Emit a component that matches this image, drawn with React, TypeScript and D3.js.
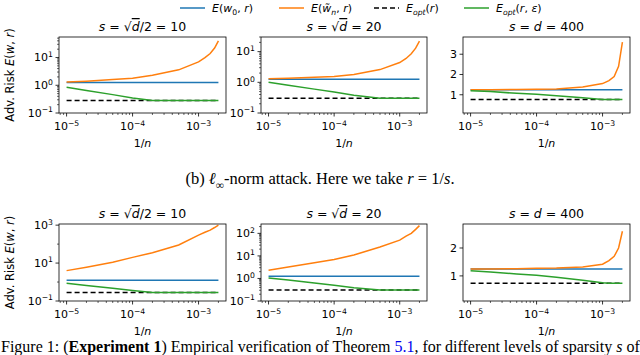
import React from 'react';
import * as d3 from 'd3';

// 1/n values (x), shared by every panel
const nInv = [1e-5, 2e-5, 5e-5, 1e-4, 2e-4, 5e-4, 1e-3, 1.25e-3, 1.5e-3, 1.75e-3, 2e-3];

// rows: [l2 attack (top), l_inf attack (bottom)] ; cols: s = sqrt(d)/2, sqrt(d), d
const baseRisk = [[1.25, 1.25, 1.25], [1.25, 1.25, 1.25]];
const optRisk = [[0.28, 0.3, 0.76], [0.28, 0.31, 0.74]];

const empRiskTop = [
  [1.3, 1.4, 1.6, 1.8, 2.3, 3.6, 7, 10, 14, 22, 40],
  [1.3, 1.35, 1.45, 1.55, 1.8, 2.6, 4.4, 6, 8.5, 13, 22],
  [1.25, 1.25, 1.26, 1.27, 1.28, 1.38, 1.55, 1.7, 1.9, 2.4, 3.6],
];
const empRiskBottom = [
  [4, 6, 11, 20, 35, 90, 300, 420, 550, 750, 1000],
  [2.3, 3.2, 5, 7, 11, 25, 50, 75, 100, 150, 220],
  [1.25, 1.25, 1.26, 1.27, 1.28, 1.32, 1.42, 1.55, 1.7, 2.0, 2.6],
];
const advOptTop = [
  [0.85, 0.65, 0.46, 0.35, 0.28, 0.28, 0.28, 0.28, 0.28, 0.28, 0.28],
  [1.0, 0.8, 0.6, 0.48, 0.38, 0.3, 0.3, 0.3, 0.3, 0.3, 0.3],
  [1.2, 1.16, 1.07, 1.02, 0.95, 0.85, 0.77, 0.76, 0.76, 0.76, 0.76],
];
const advOptBottom = [
  [0.87, 0.66, 0.47, 0.36, 0.28, 0.28, 0.28, 0.28, 0.28, 0.28, 0.28],
  [1.06, 0.85, 0.63, 0.5, 0.39, 0.31, 0.31, 0.31, 0.31, 0.31, 0.31],
  [1.18, 1.14, 1.07, 1.02, 0.95, 0.84, 0.75, 0.74, 0.74, 0.74, 0.74],
];

const yScaleKind = ['log', 'log', 'linear'];
const yMax = [[55, 30, 3.85], [1150, 260, 2.86]];
const yMajorTicks = [
  [[0.1, 1, 10], [0.1, 1, 10], [1, 2, 3]],
  [[0.1, 10, 1000], [0.1, 1, 10, 100], [1, 2]],
];
const xMajorTicks = [1e-5, 1e-4, 1e-3];

const colors = { base: '#1f77b4', emp: '#ff7f0e', opt: '#000000', adv: '#2ca02c' };

type Seg = { t: string; i?: boolean; sub?: boolean; sup?: boolean; o?: boolean; b?: boolean; c?: string };

const titles: Seg[][] = [
  [{ t: 's', i: true }, { t: ' = √' }, { t: 'd', i: true, o: true }, { t: '/2 = 10' }],
  [{ t: 's', i: true }, { t: ' = √' }, { t: 'd', i: true, o: true }, { t: ' = 20' }],
  [{ t: 's', i: true }, { t: ' = ' }, { t: 'd', i: true }, { t: ' = 400' }],
];

const legendItems: { key: keyof typeof colors; dash?: string; label: Seg[] }[] = [
  { key: 'base', label: [{ t: 'E', i: true }, { t: '(' }, { t: 'w', i: true }, { t: '0', sub: true }, { t: ', ' }, { t: 'r', i: true }, { t: ')' }] },
  { key: 'emp', label: [{ t: 'E', i: true }, { t: '(' }, { t: 'w\u0303', i: true }, { t: 'n', sub: true, i: true }, { t: ', ' }, { t: 'r', i: true }, { t: ')' }] },
  { key: 'opt', dash: '5,3', label: [{ t: 'E', i: true }, { t: 'opt', sub: true, i: true }, { t: '(' }, { t: 'r', i: true }, { t: ')' }] },
  { key: 'adv', label: [{ t: 'E', i: true }, { t: 'opt', sub: true, i: true }, { t: '(' }, { t: 'r', i: true }, { t: ', ' }, { t: 'ε', i: true }, { t: ')' }] },
];

const colX: [number, number][] = [[59, 226], [261, 427], [463, 630]];
const rowY: [number, number][] = [[37, 113], [224, 301]];

const FONT = 'DejaVu Sans, sans-serif';
const SERIF = 'Liberation Serif, Times New Roman, serif';

function MathText({ segs, fs }: { segs: Seg[]; fs: number }) {
  let off = 0;
  return (
    <>
      {segs.map((s, k) => {
        const target = s.sub ? fs * 0.3 : s.sup ? -fs * 0.4 : 0;
        const dy = target - off;
        off = target;
        return (
          <tspan
            key={k}
            dy={dy || undefined}
            fontSize={s.sub || s.sup ? fs * 0.7 : undefined}
            fontStyle={s.i ? 'italic' : undefined}
            fontWeight={s.b ? 'bold' : undefined}
            fill={s.c}
            style={s.o ? { textDecoration: 'overline' } : undefined}
          >
            {s.t}
          </tspan>
        );
      })}
    </>
  );
}

function Panel({ row, col }: { row: number; col: number }) {
  const [x0, x1] = colX[col];
  const [y0, y1] = rowY[row];
  const fx = d3.scaleLog().domain([10 ** -5.115, 10 ** -2.584]).range([x0, x1]);
  const isLog = yScaleKind[col] === 'log';
  const fy: any = isLog
    ? d3.scaleLog().domain([0.1, yMax[row][col]]).range([y1, y0])
    : d3.scaleLinear().domain([0.1, yMax[row][col]]).range([y1, y0]);

  const emp = (row === 0 ? empRiskTop : empRiskBottom)[col];
  const adv = (row === 0 ? advOptTop : advOptBottom)[col];
  const line = d3.line<number>().x((_, i) => fx(nInv[i])).y((d) => fy(d));
  const xa = nInv[0];
  const xb = nInv[nInv.length - 1];

  const xMinor: number[] = [];
  for (let e = -6; e <= -3; e++) for (let m = 2; m <= 9; m++) {
    const v = m * 10 ** e;
    if (fx(v) >= x0 && fx(v) <= x1) xMinor.push(v);
  }
  const yMajor = yMajorTicks[row][col];
  const yMinor: number[] = [];
  if (isLog) {
    const step = Math.log10(yMajor[1]) - Math.log10(yMajor[0]);
    for (let e = -1; e <= 3; e++) {
      if (step > 1) {
        const v = 10 ** e;
        if (!yMajor.some((t) => Math.abs(t - v) < 1e-9) && fy(v) >= y0 - 0.1) yMinor.push(v);
      } else {
        for (let m = 2; m <= 9; m++) {
          const v = m * 10 ** e;
          if (fy(v) >= y0 && fy(v) <= y1) yMinor.push(v);
        }
      }
    }
  }

  const cx = (x0 + x1) / 2;
  return (
    <g>
      <defs>
        <clipPath id={`clip${row}${col}`}>
          <rect x={x0} y={y0} width={x1 - x0} height={y1 - y0} />
        </clipPath>
      </defs>
      <g clipPath={`url(#clip${row}${col})`} fill="none" strokeWidth={1.5}>
        <line x1={fx(xa)} x2={fx(xb)} y1={fy(baseRisk[row][col])} y2={fy(baseRisk[row][col])} stroke={colors.base} />
        <path d={line(emp) || ''} stroke={colors.emp} />
        <line x1={fx(xa)} x2={fx(xb)} y1={fy(optRisk[row][col])} y2={fy(optRisk[row][col])} stroke={colors.opt} strokeDasharray="5,3" />
        <path d={line(adv) || ''} stroke={colors.adv} />
      </g>
      <rect x={x0} y={y0} width={x1 - x0} height={y1 - y0} fill="none" stroke="#000" strokeWidth={0.8} />
      {xMajorTicks.map((v) => (
        <g key={v}>
          <line x1={fx(v)} x2={fx(v)} y1={y1} y2={y1 + 3.5} stroke="#000" strokeWidth={0.8} />
          <text x={fx(v)} y={y1 + 17} textAnchor="middle" fontSize={11} fontFamily={FONT}>
            <MathText fs={11} segs={[{ t: '10' }, { t: '−' + (-Math.log10(v)).toFixed(0), sup: true }]} />
          </text>
        </g>
      ))}
      {xMinor.map((v) => (
        <line key={v} x1={fx(v)} x2={fx(v)} y1={y1} y2={y1 + 2} stroke="#000" strokeWidth={0.6} />
      ))}
      {yMajor.map((v) => {
        const e = Math.log10(v);
        return (
          <g key={v}>
            <line x1={x0 - 3.5} x2={x0} y1={fy(v)} y2={fy(v)} stroke="#000" strokeWidth={0.8} />
            <text x={x0 - 6} y={fy(v) + 3.8} textAnchor="end" fontSize={11} fontFamily={FONT}>
              {isLog ? (
                <MathText fs={11} segs={[{ t: '10' }, { t: (e < 0 ? '−' : '') + Math.abs(e).toFixed(0), sup: true }]} />
              ) : (
                String(v)
              )}
            </text>
          </g>
        );
      })}
      {yMinor.map((v) => (
        <line key={v} x1={x0 - 2} x2={x0} y1={fy(v)} y2={fy(v)} stroke="#000" strokeWidth={0.6} />
      ))}
      <text x={cx} y={y0 - 6} textAnchor="middle" fontSize={12.5} fontFamily={FONT}>
        <MathText fs={12.5} segs={titles[col]} />
      </text>
      <text x={cx} y={y1 + 34} textAnchor="middle" fontSize={11} fontFamily={FONT}>
        <MathText fs={11} segs={[{ t: '1/' }, { t: 'n', i: true }]} />
      </text>
      {col === 0 && (
        <text transform={`translate(14,${(y0 + y1) / 2}) rotate(-90)`} textAnchor="middle" fontSize={11.5} fontFamily={FONT}>
          <MathText fs={11.5} segs={[{ t: 'Adv. Risk ' }, { t: 'E', i: true }, { t: '(' }, { t: 'w', i: true }, { t: ', ' }, { t: 'r', i: true }, { t: ')' }]} />
        </text>
      )}
    </g>
  );
}

const legendX = [180, 279, 374, 464];

export default function App() {
  return (
    <svg width={640} height={355} style={{ position: 'absolute', left: 0, top: 0, background: '#fff' }}>
      {legendItems.map((it, k) => (
        <g key={it.key}>
          <line x1={legendX[k]} x2={legendX[k] + 25} y1={8} y2={8} stroke={colors[it.key]} strokeWidth={1.5} strokeDasharray={it.dash} />
          <text x={legendX[k] + 32} y={12} fontSize={11} fontFamily={FONT}>
            <MathText fs={11} segs={it.label} />
          </text>
        </g>
      ))}
      {[0, 1].map((r) => [0, 1, 2].map((c) => <Panel key={`${r}${c}`} row={r} col={c} />))}
      <text x={320} y={184} textAnchor="middle" fontSize={16.5} fontFamily={SERIF}>
        <MathText
          fs={16.5}
          segs={[{ t: '(b) ' }, { t: 'ℓ', i: true }, { t: '∞', sub: true }, { t: '-norm attack. Here we take ' }, { t: 'r', i: true }, { t: ' = 1/' }, { t: 's', i: true }, { t: '.' }]}
        />
      </text>
      <text x={1} y={352} fontSize={16} fontFamily={SERIF}>
        <MathText
          fs={16}
          segs={[
            { t: 'Figure 1: (' },
            { t: 'Experiment 1', b: true },
            { t: ') Empirical verification of Theorem ' },
            { t: '5.1', c: '#0000ee' },
            { t: ', for different levels of sparsity ' },
            { t: 's', i: true },
            { t: ' of' },
          ]}
        />
      </text>
    </svg>
  );
}
